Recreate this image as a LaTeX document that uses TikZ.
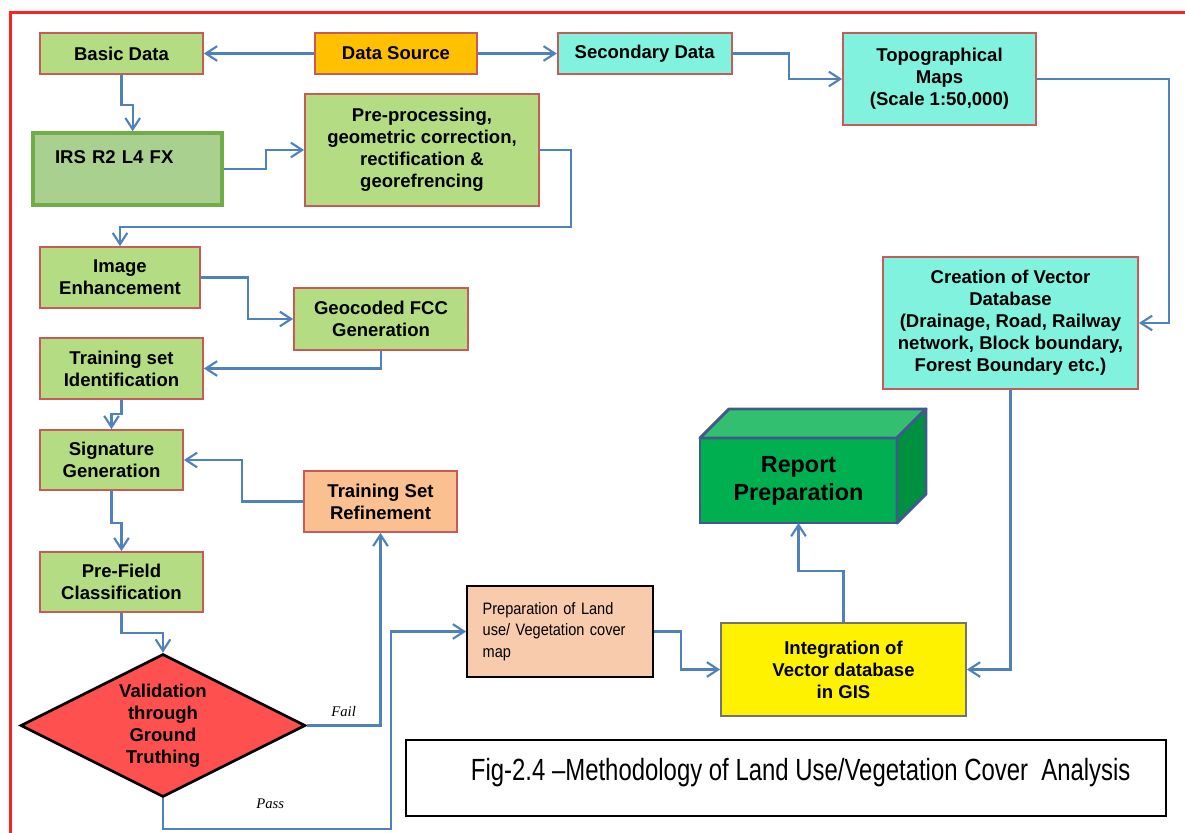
\documentclass[tikz,border=0pt]{standalone}
\usepackage{fontspec}
\setmainfont{Liberation Sans}
\newfontfamily\prepfont[FakeStretch=0.88]{Liberation Sans}
\newfontfamily\capfont[FakeStretch=0.78]{Liberation Sans}
\newfontfamily\passfont{Liberation Serif}
\usetikzlibrary{arrows.meta,shapes.geometric}

\definecolor{frameRed}{RGB}{255,32,32}
\definecolor{edgeRed}{RGB}{200,90,88}
\definecolor{connBlue}{RGB}{79,129,189}
\definecolor{leafGreen}{RGB}{180,221,131}
\definecolor{irsGreen}{RGB}{169,208,142}
\definecolor{irsEdge}{RGB}{112,173,71}
\definecolor{tealFill}{RGB}{128,242,222}
\definecolor{amberFill}{RGB}{255,192,0}
\definecolor{peachFill}{RGB}{250,192,143}
\definecolor{paleFill}{RGB}{248,203,173}
\definecolor{valRed}{RGB}{255,80,80}
\definecolor{cubeFront}{RGB}{0,176,80}
\definecolor{cubeTop}{RGB}{50,192,112}
\definecolor{cubeSide}{RGB}{0,145,64}
\definecolor{cubeEdge}{RGB}{65,90,140}

\begin{document}
\begin{tikzpicture}[x=0.75pt,y=0.75pt,yscale=-1,xscale=1,
  box/.style={rectangle, draw=edgeRed, line width=1.3pt, inner sep=0pt, align=center,
    font=\fontsize{13.9}{16.5}\selectfont\bfseries},
  conn/.style={draw=connBlue, line width=1.6pt, -{Straight Barb[length=8.5pt,width=11pt]}},
  tag/.style={inner sep=0pt, font=\passfont\itshape\fontsize{11}{13}\selectfont}]
\useasboundingbox (0,0) rectangle (1185,832);

%Shape: Frame
\draw [frameRed, line width=2.6pt] (10.5,840) -- (10.5,12.5) -- (1190,12.5) ;

% Top row
\node [box, fill=leafGreen, minimum width=122.25pt, minimum height=30.75pt] (basic) at (121.5,53.5) {Basic Data};
\node [box, fill=amberFill, minimum width=121.5pt, minimum height=30.75pt] (source) at (396,53.5) {Data Source};
\node [box, fill=tealFill, minimum width=130.5pt, minimum height=30.75pt] (secondary) at (644.7,53.5) {Secondary Data};
\node [box, fill=tealFill, minimum width=144.75pt, minimum height=69pt] (topo) at (939.5,79) {Topographical\\Maps\\(Scale 1:50,000)};

% Left column
\node [box, fill=irsGreen, draw=irsEdge, line width=2.6pt, align=left, text width=108.75pt, inner xsep=16.5pt,
  minimum height=54pt, text height=10pt, text depth=19pt] (irs) at (127.5,169) {IRS R2 L4 FX};
\node [box, fill=leafGreen, minimum width=175.5pt, minimum height=84pt] (pre) at (422,150) {Pre-processing,\\geometric correction,\\rectification \&\\georefrencing};
\node [box, fill=leafGreen, minimum width=120pt, minimum height=45.75pt] (enh) at (120,277.5) {Image\\Enhancement};
\node [box, fill=leafGreen, minimum width=130.5pt, minimum height=46.5pt] (fcc) at (381,319) {Geocoded FCC\\Generation};
\node [box, fill=leafGreen, minimum width=122.25pt, minimum height=45.75pt] (tsid) at (121.5,368.5) {Training set\\Identification};
\node [box, fill=leafGreen, minimum width=107.25pt, minimum height=45pt] (sig) at (111.5,460) {Signature\\Generation};
\node [box, fill=peachFill, minimum width=114.75pt, minimum height=45.75pt] (refine) at (380.5,501.5) {Training Set\\Refinement};
\node [box, fill=leafGreen, minimum width=122.25pt, minimum height=45pt] (prefield) at (121.5,582) {Pre-Field\\Classification};
\node [diamond, aspect=2, draw=black, line width=2pt, fill=valRed, inner sep=0pt, align=center,
  minimum width=213.75pt, minimum height=107.25pt, font=\fontsize{13.9}{16.5}\selectfont\bfseries] (valid) at (163,725.5) {Validation\\through\\Ground\\Truthing};

% Right part
\node [box, fill=tealFill, minimum width=191.25pt, minimum height=99pt] (vector) at (1010.5,323) {Creation of Vector\\Database\\(Drainage, Road, Railway\\network, Block boundary,\\Forest Boundary etc.)};
\node [box, draw=black, fill=paleFill, align=left, text width=116pt, inner xsep=11.75pt, minimum height=68.25pt,
  font=\prepfont\fontsize{12.4}{16.3}\selectfont] (prep) at (560,631.5) {Preparation of Land\\use/ Vegetation cover\\map};
\node [box, draw=black!55, fill=yellow, minimum width=183.75pt, minimum height=69.75pt] (integ) at (843.5,669.5) {Integration of\\Vector database\\in GIS};

%Shape: Cube
\node [draw=cubeEdge, line width=2.2pt, fill=cubeFront, outer sep=0pt, inner sep=0pt, align=center,
  minimum width=147.75pt, minimum height=63.75pt, font=\fontsize{17.5}{21}\selectfont\bfseries] (report) at (798.5,480.5) {Report\\Preparation};
\draw [cubeEdge, line width=2.2pt, fill=cubeTop, line join=round] (report.north west) -- ++(29,-29) -- ++(197,0) -- (report.north east) -- cycle ;
\draw [cubeEdge, line width=2.2pt, fill=cubeSide, line join=round] (report.north east) -- ++(29,-29) -- ++(0,85) -- (report.south east) -- cycle ;

% Caption
\node [draw=black, line width=1.5pt, minimum width=570pt, minimum height=57pt, inner sep=0pt] (caption) at (786,778) {};
\node [anchor=base west, inner sep=0pt, font=\capfont\fontsize{23}{27}\selectfont] (captitle) at (470.7,780) {Fig-2.4 –Methodology of Land Use/Vegetation Cover\ \ Analysis};

%Connectors
\draw [conn] (source.west) -- (basic.east) ;
\draw [conn] (source.east) -- (secondary.west) ;
\draw [conn] (secondary.east) -- ++(56,0) |- (topo.west) ;
\draw [conn] (topo.east) -- ++(132,0) |- (vector.east) ;
\draw [conn] (basic.south) -- ++(0,30) -| ([xshift=3.9pt]irs.north) ;
\draw [conn] (irs.east) -- ++(42,0) |- (pre.west) ;
\draw [conn] (pre.east) -- ++(31,0) -- ++(0,77) -| (enh.north) ;
\draw [conn] (enh.east) -- ++(47,0) |- (fcc.west) ;
\draw [conn] (fcc.south) |- (tsid.east) ;
\draw [conn] (tsid.south) -- ++(0,14) -| (sig.north) ;
\draw [conn] (refine.west) -- ++(-61,0) |- (sig.east) ;
\draw [conn] (sig.south) -- ++(0,32) -| (prefield.north) ;
\draw [conn] (prefield.south) -- ++(0,20) -| (valid.north) ;
\draw [conn] (valid.east) -| (refine.south) node [tag, pos=0.25, above=6pt] (failtag) {Fail} ;
\draw [conn] (valid.south) -- ++(0,31) -- ++(228,0) node [tag, pos=0.47, above=15pt] (passtag) {Pass} |- (prep.west) ;
\draw [conn] (prep.east) -- ++(27,0) |- (integ.west) ;
\draw [conn] (vector.south) |- (integ.east) ;
\draw [conn] (integ.north) -- ++(0,-51) -| (report.south) ;

\end{tikzpicture}
\end{document}
